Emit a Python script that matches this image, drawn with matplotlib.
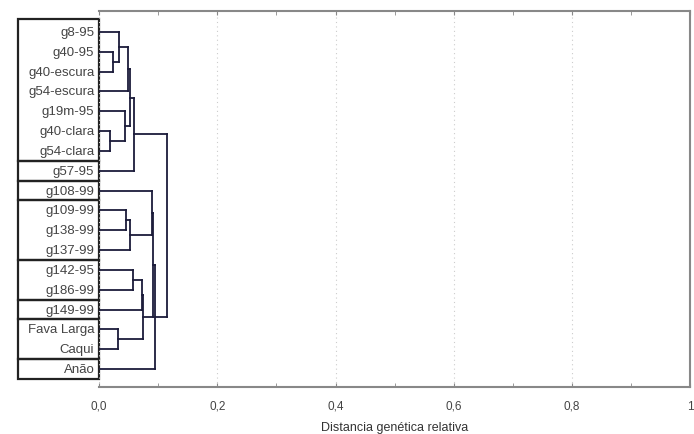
import matplotlib.pyplot as plt
import matplotlib.transforms as mtransforms
from matplotlib.patches import Rectangle
from matplotlib.ticker import MultipleLocator

# Leaves, top to bottom
leaves = ["g8-95", "g40-95", "g40-escura", "g54-escura", "g19m-95", "g40-clara",
          "g54-clara", "g57-95", "g108-99", "g109-99", "g138-99", "g137-99",
          "g142-95", "g186-99", "g149-99", "Fava Larga", "Caqui", "Anão"]

# Merges (linkage style: new node ids start at len(leaves))
merge_left = [1, 0, 19, 5, 4, 20, 23, 9, 25, 8, 12, 28, 15, 29, 27, 32, 24]
merge_right = [2, 18, 3, 6, 21, 22, 7, 10, 11, 26, 13, 14, 16, 30, 31, 17, 33]
merge_dist = [0.024, 0.034, 0.049, 0.018, 0.044, 0.053, 0.059, 0.046, 0.053,
              0.090, 0.058, 0.073, 0.032, 0.075, 0.092, 0.095, 0.115]

# Label boxes (first leaf, last leaf)
box_groups = [(0, 6), (7, 7), (8, 8), (9, 11), (12, 13), (14, 14), (15, 16), (17, 17)]

xticks = [0.0, 0.2, 0.4, 0.6, 0.8, 1.0]
xticklabels = ["0,0", "0,2", "0,4", "0,6", "0,8", "1"]

plt.rcParams['font.family'] = ['Liberation Sans', 'DejaVu Sans']

fig = plt.figure(figsize=(6.94, 4.35), dpi=100)
ax = fig.add_axes([0.1427, 0.108, 0.852, 0.8644])

line_col = "#1b1b3a"
n = len(leaves)
ypos = {i: float(i) for i in range(n)}
hgt = {i: 0.0 for i in range(n)}

for k, (a, b, d) in enumerate(zip(merge_left, merge_right, merge_dist)):
    node = n + k
    ax.plot([hgt[a], d], [ypos[a], ypos[a]], color=line_col, lw=1.3, solid_capstyle="projecting")
    ax.plot([hgt[b], d], [ypos[b], ypos[b]], color=line_col, lw=1.3, solid_capstyle="projecting")
    ax.plot([d, d], [ypos[a], ypos[b]], color=line_col, lw=1.3, solid_capstyle="projecting")
    ypos[node] = (ypos[a] + ypos[b]) / 2
    hgt[node] = d

ax.set_xlim(0, 1.0)
ax.set_ylim(n - 1 + 0.91, -1.06)
ax.set_yticks([])
ax.set_xticks(xticks)
ax.set_xticklabels(xticklabels, fontsize=8.5, color="#444444")
ax.xaxis.set_minor_locator(MultipleLocator(0.1))
ax.tick_params(axis="x", which="both", direction="in", top=True, length=3, color="#888888", pad=9)
ax.grid(True, axis="x", which="major", linestyle=(0, (1, 3)), color="#cccccc", lw=0.8)
ax.set_xlabel("Distancia genética relativa", fontsize=9, color="#333333", labelpad=7)

for side in ["top", "bottom", "right"]:
    ax.spines[side].set_color("#888888")
    ax.spines[side].set_linewidth(1.5)
ax.spines["left"].set_visible(False)

# label column boxes
trans = mtransforms.blended_transform_factory(ax.transAxes, ax.transData)
box_left = -0.137
for first, last in box_groups:
    top = first - 0.5 if first > 0 else -0.66
    rect = Rectangle((box_left, top), -box_left, last + 0.5 - top,
                     transform=trans, fill=False, edgecolor="#222222", lw=1.6, clip_on=False)
    ax.add_patch(rect)
for i, name in enumerate(leaves):
    ax.text(-0.008, i, name, transform=trans, ha="right", va="center",
            fontsize=9.5, color="#444444", clip_on=False)

fig.savefig("out.png", dpi=100)
